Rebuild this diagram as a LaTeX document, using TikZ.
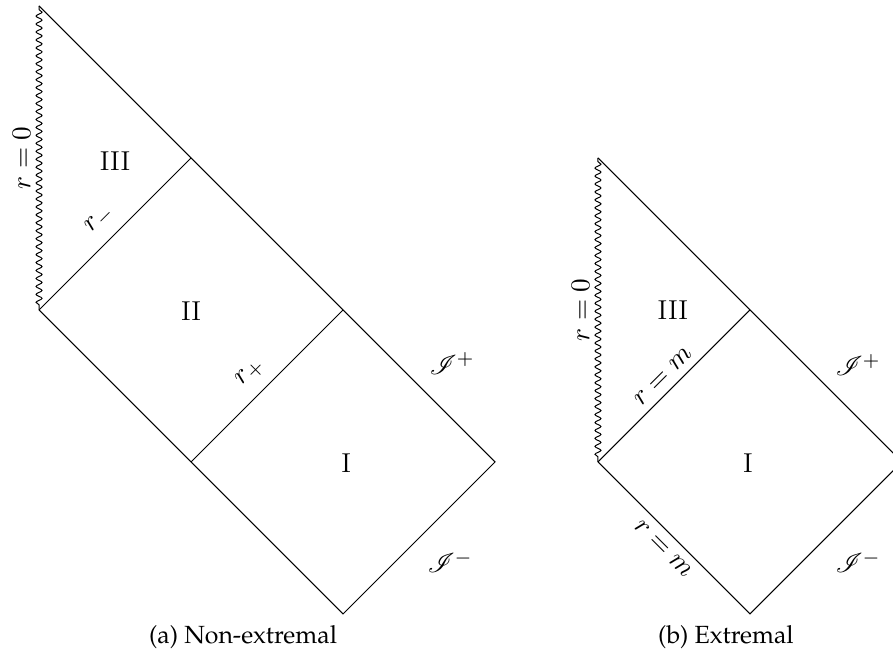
\documentclass[tikz,border=0pt]{standalone}
\usepackage[T1,TU]{fontenc}
\usepackage{amsmath}
\usepackage{mathrsfs}
\usepackage{tikz}
\usetikzlibrary{decorations.pathmorphing, positioning}

\begin{document}
\begin{tikzpicture}[
  x=2.15cm, y=2.15cm,
  edge/.style={line width=0.4pt, black},
  sing/.style={decorate, decoration={snake, amplitude=1.2pt,
    segment length=3.2pt, pre length=1.5pt, post length=0.5pt}},
  region/.style={inner sep=0pt, font=\fontsize{11}{13}\selectfont},
  horizon/.style={inner sep=0pt, rotate=45, font=\fontsize{11}{13}\selectfont},
  horizonb/.style={inner sep=0pt, rotate=-45, font=\fontsize{11}{13}\selectfont},
  scri/.style={inner sep=0pt, font=\fontsize{11}{13}\selectfont},
  subcap/.style={inner sep=0pt, font=\fontencoding{T1}\fontfamily{ppl}\selectfont}
]
  \useasboundingbox (-0.257,-0.283) rectangle (5.618,4.039);

  % (a) non-extremal
  \coordinate (aTop)  at (0,4);
  \coordinate (aSing) at (0,2);
  \coordinate (aMinus) at (1,3);
  \coordinate (aPlus) at (2,2);
  \coordinate (aRight) at (3,1);
  \coordinate (aBot)  at (2,0);
  \coordinate (aLeft) at (1,1);

  \draw[edge] (aTop) -- (aMinus) -- (aPlus) -- (aRight) -- (aBot) -- (aLeft) -- (aSing);
  \draw[edge, sing] (aTop) -- (aSing);
  \draw[edge] (aSing) -- (aMinus);
  \draw[edge] (aLeft) -- (aPlus);

  \node[region, rotate=90] (azero) at (-0.115, 3.0)  {$r=0$};
  \node[region] (aIII) at (0.5, 2.98)  {III};
  \node[region] (aII)  at (1.0, 1.99)  {II};
  \node[region] (aI)   at (2.02, 0.99) {I};
  \node[horizon] (arm) at (0.40, 2.59) {$r_-$};
  \node[horizon] (arp) at (1.39, 1.585) {$r_+$};
  \node[scri] (ascrip) at (2.717, 1.648) {$\mathscr{I}^+$};
  \node[scri] (ascrim) at (2.704, 0.342) {$\mathscr{I}^-$};
  \node[subcap] (acap) at (1.342, -0.151) {(a) Non-extremal};

  % (b) extremal
  \coordinate (bTop)  at (3.677,3);
  \coordinate (bSing) at (3.677,1);
  \coordinate (bHor)  at (4.677,2);
  \coordinate (bRight) at (5.677,1);
  \coordinate (bBot)  at (4.677,0);

  \draw[edge] (bTop) -- (bHor) -- (bRight) -- (bBot) -- (bSing);
  \draw[edge, sing] (bTop) -- (bSing);
  \draw[edge] (bSing) -- (bHor);

  \node[region, rotate=90] (bzero) at (3.562, 2.0) {$r=0$};
  \node[region] (bIII) at (4.17, 2.0)  {III};
  \node[region] (bI)   at (4.664, 0.99) {I};
  \node[horizon]  (brm)  at (4.105, 1.56)  {$r=m$};
  \node[horizonb] (brmb) at (4.105, 0.428) {$r=m$};
  \node[scri] (bscrip) at (5.388, 1.638) {$\mathscr{I}^+$};
  \node[scri] (bscrim) at (5.388, 0.342) {$\mathscr{I}^-$};
  \node[subcap] (bcap) at (4.519, -0.151) {(b) Extremal};
\end{tikzpicture}
\end{document}
